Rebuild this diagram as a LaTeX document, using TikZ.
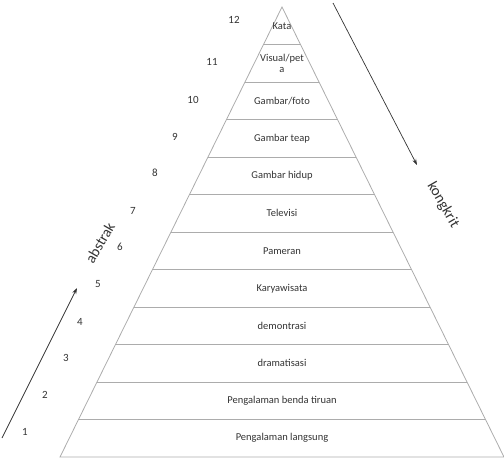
\documentclass[tikz,border=0pt]{standalone}
\usepackage{fontspec}
\setmainfont{Carlito}
\usetikzlibrary{positioning, calc, arrows.meta}

\tikzset{
  edge/.style={draw=gray!65, line width=0.8pt},
  level/.style={font=\fontsize{10.5}{11}\selectfont, text=black!80, align=center, inner sep=0pt},
  num/.style={font=\fontsize{11}{12}\selectfont, text=black!80, inner sep=0pt},
  way/.style={draw=black!80, line width=0.7pt, -{Stealth[length=6pt, width=4pt]}},
  side/.style={font=\fontsize{15}{16}\selectfont, text=black!80, inner sep=0pt}
}

\begin{document}
\begin{tikzpicture}[x=1pt, y=-1pt]
	\useasboundingbox (0,0) rectangle (504,458);
	
	\coordinate (T) at (282,7);
	\coordinate (L) at (60,457);
	\coordinate (R) at (504,457);
	
	% outline of the pyramid
	\draw[edge] (L)--(T)--(R)--cycle;
	\foreach \i in {1,...,11}
		\draw[edge] ($(T)!\i/12!(L)$) -- ($(T)!\i/12!(R)$);
	
	% levels, top to bottom
	\foreach \t [count=\k] in {Kata, Visual/pet\\a, Gambar/foto, Gambar teap, Gambar hidup, Televisi, Pameran, Karyawisata, demontrasi, dramatisasi, Pengalaman benda tiruan, Pengalaman langsung}
		\node[level] (lv\k) at (282, 7+37.5*\k-18.75) {\t};
	
	% numbering
	\foreach \x/\y/\n in {234/20/12, 212/62/11, 193/100/10, 175/137/9, 155/173/8, 133/211/7, 120/247/6, 98/284/5, 80/322/4, 66/358/3, 45/395/2, 25/432/1}
		\node[num] (n\n) at (\x,\y) {\n};
	
	% arrows
	\coordinate (a0) at (2,438);
	\coordinate (a1) at (77,288);
	\draw[way] (a0)--(a1);
	\node[side, rotate=60] (abs) at (100,243) {abstrak};
	
	\coordinate (k0) at (333,3);
	\coordinate (k1) at (417,165);
	\draw[way] (k0)--(k1);
	\node[side, rotate=-60] (kon) at (443,205) {kongkrit};
\end{tikzpicture}
\end{document}
